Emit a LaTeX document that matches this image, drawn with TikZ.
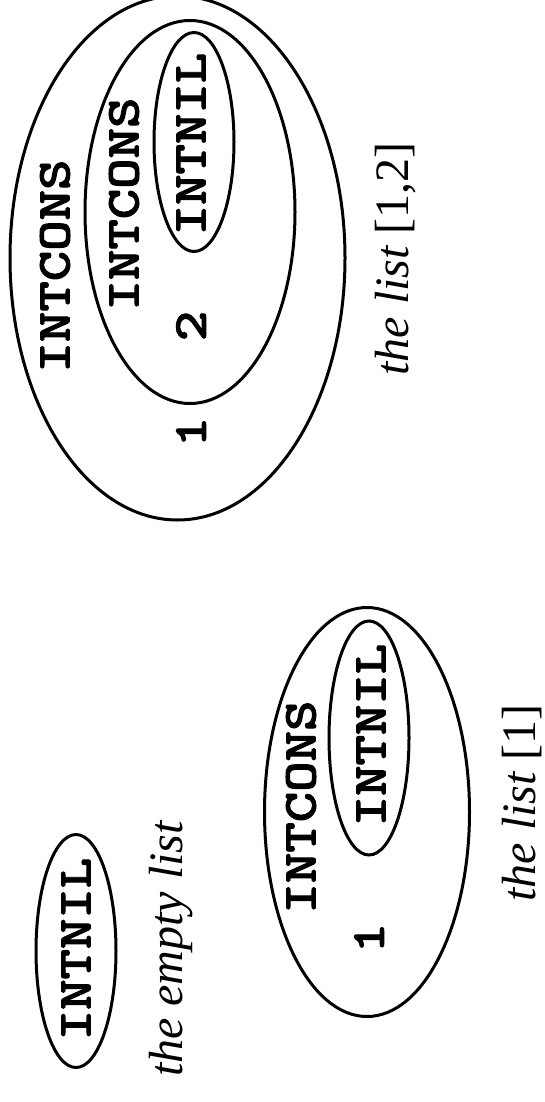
\documentclass[tikz,border=0pt]{standalone}
\usepackage{fontspec}
\setmainfont{Liberation Serif}
\newfontfamily\codefont[FakeStretch=1.22,FakeBold=2]{lmmonolt10-bold.otf}
\usetikzlibrary{shapes.geometric}
\tikzset{
  box/.style={draw, ellipse, line width=3pt, inner sep=0pt},
  code/.style={rotate=90, inner sep=0pt, font=\codefont\fontsize{47.5}{47.5}\selectfont},
  caption/.style={rotate=90, inner sep=0pt, font=\fontsize{48}{48}\selectfont}
}
\begin{document}
\begin{tikzpicture}[x=1pt,y=1pt]
\useasboundingbox (0,0) rectangle (544,-1102);
% group 1: empty list
\node[box, minimum width=80pt, minimum height=233pt] (nilA) at (76,-951) {};
\node[code] (nilAt) at (76,-949) {INTNIL};
\node[caption, anchor=base] (capA) at (182,-949) {\itshape the empty list};
% group 2: [1]
\node[box, minimum width=205pt, minimum height=409pt] (consB) at (367,-812) {};
\node[box, minimum width=80pt, minimum height=234pt] (nilB) at (369,-738) {};
\node[code] (consBt) at (301,-807) {INTCONS};
\node[code] (nilBt) at (371,-735) {INTNIL};
\node[code] (oneB) at (369,-938) {1};
\node[caption, anchor=base east] (capB) at (535,-704) {\itshape the list \upshape[1]};
% group 3: [1,2]
\node[box, minimum width=335pt, minimum height=524pt] (consC) at (177.5,-258) {};
\node[box, minimum width=210pt, minimum height=383pt] (consD) at (190,-212) {};
\node[box, minimum width=80pt, minimum height=219pt] (nilC) at (194,-142) {};
\node[code] (consCt) at (55,-266) {INTCONS};
\node[code] (consDt) at (124,-204) {INTCONS};
\node[code] (nilCt) at (191,-144) {INTNIL};
\node[code] (twoC) at (191,-326) {2};
\node[code] (oneC) at (191,-432) {1};
\node[caption, anchor=base] (capC) at (408,-259) {\itshape the list \upshape[1,2]};
\end{tikzpicture}
\end{document}
